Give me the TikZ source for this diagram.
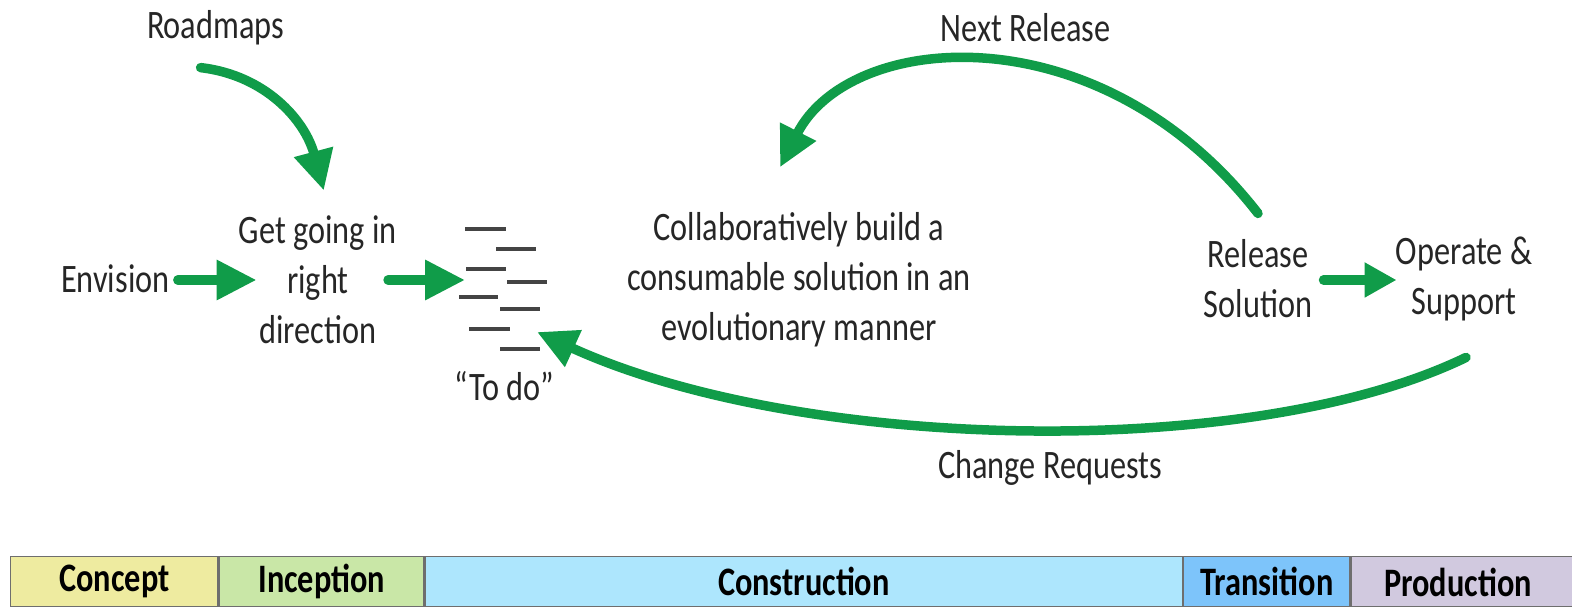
\documentclass[tikz,border=0pt]{standalone}
\usepackage{fontspec}
\setmainfont{Carlito}[FakeStretch=0.8]
\usetikzlibrary{arrows.meta,calc}
\definecolor{grn}{HTML}{109C49}
\definecolor{txtc}{HTML}{262626}
\definecolor{todoc}{HTML}{444444}
\definecolor{cconcept}{HTML}{EEEBA0}
\definecolor{cinception}{HTML}{C9E7A7}
\definecolor{cconstruction}{HTML}{ADE6FD}
\definecolor{ctransition}{HTML}{7DC4FA}
\definecolor{cproduction}{HTML}{D1C9DF}
\definecolor{barline}{HTML}{6E6E6E}
\tikzset{
  txt/.style={inner sep=0pt, align=center, text=txtc, font=\fontsize{23}{28.5}\selectfont},
  garrow/.style={draw=grn, line width=0.19cm, line cap=round, -{Triangle[length=0.8cm,width=0.76cm]}},
  gsmall/.style={draw=grn, line width=0.19cm, line cap=round, -{Triangle[length=0.64cm,width=0.66cm]}},
  todoline/.style={draw=todoc, line width=0.08cm},
  phase/.style={draw=barline, line width=0.8pt, anchor=north west, minimum height=1cm, inner sep=0pt,
    font=\fontsize{23}{28}\selectfont\bfseries, text=black},
}
\begin{document}
\begin{tikzpicture}[x=0.02cm,y=-0.02cm]
\useasboundingbox (0,0) rectangle (1572,607);
% texts
\node[txt] (road) at (215.6,28) {Roadmaps};
\node[txt] (next) at (1025.5,28) {Next Release};
\node[txt] (env) at (115.3,279) {Envision};
\node[txt] (get) at (317.8,280) {Get going in\\right\\direction};
\node[txt] (todo) at (504.3,386) {“To do”};
\node[txt] (build) at (799,280) {Collaboratively build a\\consumable solution in an\\evolutionary manner};
\node[txt] (rel) at (1258,279) {Release\\Solution};
\node[txt] (op) at (1464,279) {Operate \&\\Support};
\node[txt] (cr) at (1050,468) {Change Requests};
% to-do list
\draw[todoline] (465,229) -- (506,229);
\draw[todoline] (496,249) -- (536,249);
\draw[todoline] (466,269) -- (506,269);
\draw[todoline] (507,282) -- (547,282);
\draw[todoline] (459,297) -- (498,297);
\draw[todoline] (500,309) -- (540,309);
\draw[todoline] (469,329) -- (510,329);
\draw[todoline] (500,349) -- (540,349);
\coordinate (todoin) at (465,280);
\coordinate (todocr) at (537,332);
% arrows
\draw[garrow] ($(env.east)+(8,1)$) -- ($(get.west)+(18,0)$);
\draw[garrow] ($(get.east)+(-9,0)$) -- (todoin);
\draw[gsmall] ($(rel.east)+(11,1)$) -- ($(op.west)+(1,1)$);
\draw[garrow] ($(road.south)+(-15,22)$) .. controls (265,75) and (305,120) .. ($(get.north)+(6,-25)$);
\draw[garrow] ($(rel.north)+(0,-26)$) .. controls (1100,10) and (850,30) .. ($(build.north)+(-19,-45)$);
\draw[garrow] ($(op.south)+(2,36)$) .. controls (1250,462) and (800,452) .. (todocr);
% phase bar
\node[phase, fill=cconcept, minimum width=4.15cm] (concept) at (10,556) {Concept};
\node[phase, fill=cinception, minimum width=4.09cm] (inception) at (concept.north east) {Inception};
\node[phase, fill=cconstruction, minimum width=15.14cm] (construction) at (inception.north east) {Construction};
\node[phase, fill=ctransition, minimum width=3.33cm] (transition) at (construction.north east) {Transition};
\node[phase, fill=cproduction, minimum width=4.6cm] (production) at (transition.north east) {};
\node[font=\fontsize{23}{28}\selectfont\bfseries, inner sep=0pt] (prodlabel) at (1458,582) {Production};
\end{tikzpicture}
\end{document}
